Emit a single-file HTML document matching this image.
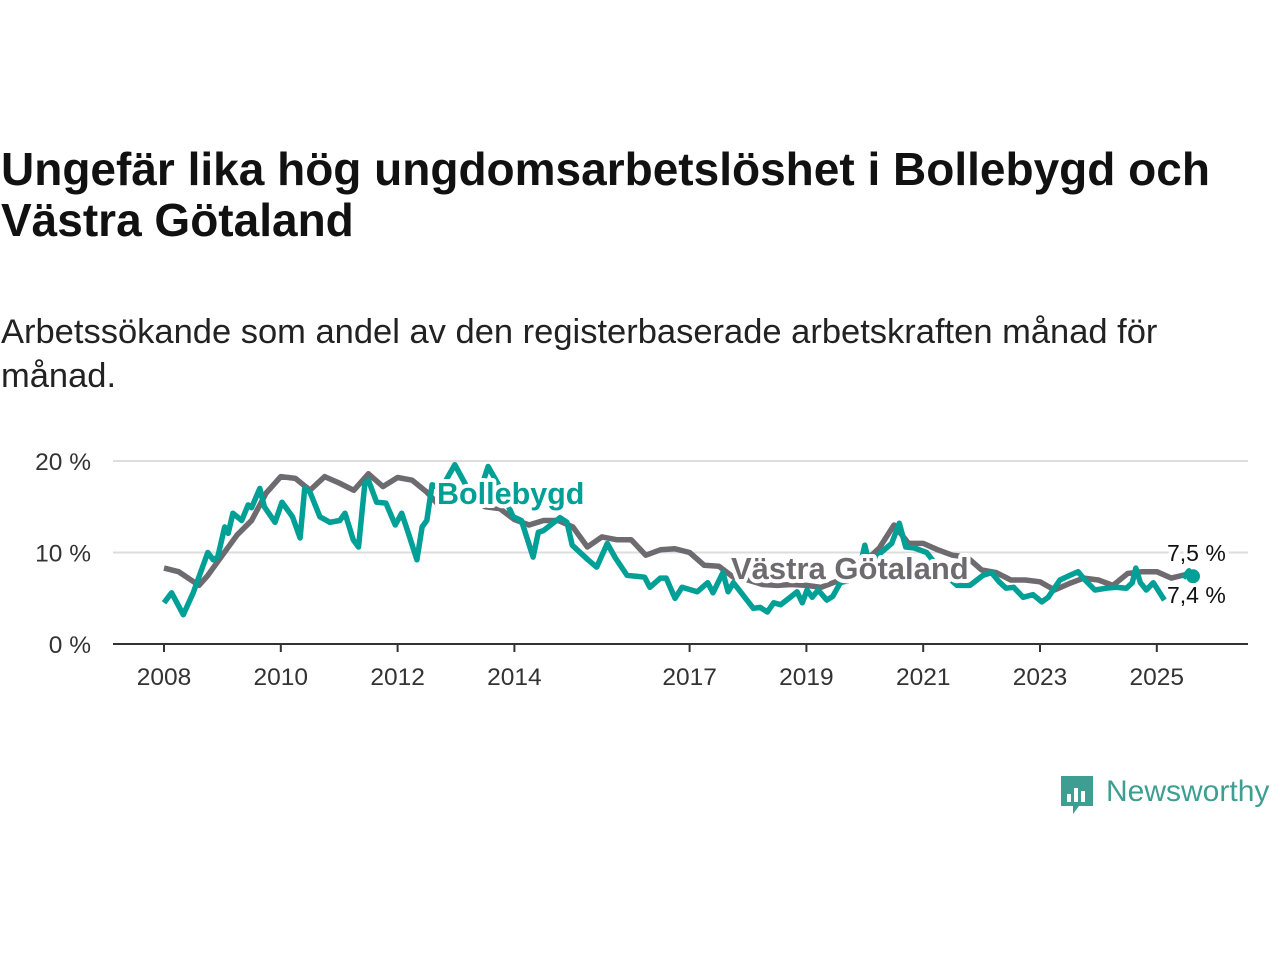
<!DOCTYPE html>
<html><head><meta charset="utf-8"><style>
body{margin:0;width:1280px;height:960px;background:#fff;font-family:"Liberation Sans",sans-serif;overflow:hidden;position:relative}
.t{position:absolute;left:1px;white-space:nowrap;color:#111}
</style></head><body>
<div class="t" style="top:144px;font-size:46px;font-weight:bold;line-height:51px;color:#111">Ungefär lika hög ungdomsarbetslöshet i Bollebygd och<br>Västra Götaland</div>
<div class="t" style="top:310px;font-size:34.5px;line-height:44px;color:#222">Arbetssökande som andel av den registerbaserade arbetskraften månad för<br>månad.</div>
<svg id="chart" width="1280" height="960" style="position:absolute;left:0;top:0"></svg>
<div style="position:absolute;left:1059px;top:774px;display:flex;align-items:center">
<svg width="36" height="44"><path d="M2 2h32v30H20l-6 8v-8H2z" fill="#3e9e92"/><rect x="8" y="20" width="4" height="8" fill="#fff"/><rect x="15" y="14" width="4" height="14" fill="#fff"/><rect x="22" y="17" width="4" height="11" fill="#fff"/></svg>
<span style="font-size:30px;color:#3e9e92;margin-left:11px;margin-top:-8px">Newsworthy</span></div>
<script>
const yTicks=[0,10,20];
const xTickYears=[2008,2010,2012,2014,2017,2019,2021,2023,2025];
const vgDates=[2008,2008.25,2008.6,2008.75,2009,2009.25,2009.5,2009.75,2010,2010.25,2010.5,2010.75,2011,2011.25,2011.5,2011.75,2012,2012.25,2012.5,2012.7,2013,2013.25,2013.5,2013.75,2014,2014.25,2014.5,2014.75,2015,2015.25,2015.5,2015.75,2016,2016.25,2016.5,2016.75,2017,2017.25,2017.5,2017.75,2018,2018.25,2018.5,2018.75,2019,2019.25,2019.5,2019.75,2020,2020.25,2020.5,2020.75,2021,2021.25,2021.5,2021.75,2022,2022.25,2022.5,2022.75,2023,2023.25,2023.5,2023.75,2024,2024.25,2024.5,2024.75,2025,2025.25,2025.5,2025.6];
const vgValues=[8.3,7.9,6.4,7.5,9.7,11.9,13.5,16.5,18.3,18.1,16.8,18.3,17.6,16.8,18.6,17.2,18.2,17.9,16.6,15.2,17,16,15,14.8,13.6,13,13.5,13.5,12.8,10.6,11.7,11.4,11.4,9.7,10.3,10.4,10,8.6,8.5,7.3,7,6.5,6.4,6.5,6.4,6.2,6.8,7.5,9,10.5,13,11,11,10.3,9.7,9.5,8.1,7.8,7,7,6.8,5.9,6.6,7.2,7,6.4,7.7,7.9,7.9,7.2,7.6,7.5];
const bDates=[2008,2008.13,2008.33,2008.5,2008.75,2008.84,2008.92,2009.04,2009.1,2009.18,2009.33,2009.44,2009.5,2009.64,2009.72,2009.9,2010.02,2010.2,2010.33,2010.41,2010.5,2010.67,2010.84,2011.01,2011.1,2011.24,2011.33,2011.44,2011.5,2011.64,2011.8,2011.96,2012.07,2012.18,2012.33,2012.42,2012.5,2012.59,2012.75,2012.98,2013.2,2013.35,2013.55,2013.72,2013.98,2014.12,2014.32,2014.41,2014.5,2014.78,2014.9,2014.99,2015.26,2015.41,2015.59,2015.73,2015.93,2016.1,2016.23,2016.32,2016.5,2016.6,2016.75,2016.87,2017.13,2017.31,2017.4,2017.57,2017.66,2017.75,2018.09,2018.21,2018.33,2018.44,2018.56,2018.7,2018.84,2018.93,2019.01,2019.1,2019.2,2019.35,2019.45,2019.58,2019.75,2019.9,2020,2020.1,2020.26,2020.46,2020.59,2020.7,2020.84,2021.06,2021.3,2021.58,2021.8,2022.02,2022.17,2022.3,2022.42,2022.55,2022.71,2022.88,2023.03,2023.14,2023.34,2023.51,2023.65,2023.77,2023.94,2024.14,2024.3,2024.48,2024.58,2024.64,2024.72,2024.82,2024.94,2025.0,2025.13,null,2025.45,2025.55,2025.62];
const bValues=[4.5,5.6,3.2,5.6,10,9.2,9.5,12.8,12.1,14.3,13.5,15.2,14.9,17,15,13.3,15.5,13.9,11.6,17,16.6,13.9,13.3,13.5,14.3,11.4,10.6,17.6,17.9,15.5,15.4,13,14.3,12.2,9.2,12.8,13.5,17.4,17,19.6,17,15.5,19.4,17.5,13.9,13.5,9.5,12.2,12.4,13.8,13.3,10.8,9.2,8.4,11,9.4,7.5,7.4,7.3,6.2,7.2,7.2,5,6.2,5.7,6.7,5.6,7.8,5.7,6.7,3.9,4.0,3.5,4.5,4.3,5,5.7,4.5,5.9,5.1,5.9,4.8,5.2,6.7,7,8,10.8,8.2,9.9,11,13.2,10.6,10.5,10,8,6.4,6.4,7.5,7.8,6.8,6.1,6.2,5.1,5.4,4.6,5.1,7,7.5,7.9,7,5.9,6.1,6.2,6.1,6.7,8.3,6.7,5.9,6.7,6.1,4.8,null,7.2,8,7.4];
const NS='http://www.w3.org/2000/svg';
const svg=document.getElementById('chart');
const x=t=>164+(t-2008)*58.4;
const y=v=>644-v*9.15;
function mk(tag,attrs){const e=document.createElementNS(NS,tag);for(const k in attrs)e.setAttribute(k,attrs[k]);svg.appendChild(e);return e;}
yTicks.forEach(v=>{
  const g=mk('line',{x1:113,x2:1248,y1:y(v),y2:y(v),stroke:v===0?'#333':'#ddd','stroke-width':2});
  
  
  const tx=mk('text',{x:91,y:y(v)+9,'text-anchor':'end','font-size':24.5,fill:'#333','font-family':'Liberation Sans, sans-serif'});
  tx.textContent=v+' %';
  
  
});
xTickYears.forEach(yr=>{
  const l=mk('line',{x1:x(yr),x2:x(yr),y1:644,y2:652,stroke:'#333','stroke-width':2});
  
  
  const tx=mk('text',{x:x(yr),y:685,'text-anchor':'middle','font-size':24.5,fill:'#333','font-family':'Liberation Sans, sans-serif'});
  tx.textContent=yr;
  
  
});
function path(dates,vals){let d='',pen=false;dates.forEach((t,i)=>{if(t===null||vals[i]===null){pen=false;return;}d+=(pen?'L':'M')+x(t).toFixed(1)+' '+y(vals[i]).toFixed(1);pen=true;});return d;}
const vg=mk('path',{d:path(vgDates,vgValues),fill:'none',stroke:'#6d6b70','stroke-width':5.5,'stroke-linejoin':'round'});


const bl=mk('path',{d:path(bDates,bValues),fill:'none',stroke:'#00a096','stroke-width':5.5,'stroke-linejoin':'round'});


const n=bValues.length-1;
const dot=mk('circle',{cx:x(bDates[n]),cy:y(bValues[n]),r:7,fill:'#00a096'});


function lbl(txt,xx,yy,col,w,name,size){
  const h=mk('text',{x:xx,y:yy,'font-size':size,'font-weight':w?'bold':'normal',fill:'#fff',stroke:'#fff','stroke-width':8,'stroke-linejoin':'round','font-family':'Liberation Sans, sans-serif'});
  h.textContent=txt;
  
  
  const t=mk('text',{x:xx,y:yy,'font-size':size,'font-weight':w?'bold':'normal',fill:col,'font-family':'Liberation Sans, sans-serif'});
  t.textContent=txt;
  
  
}
lbl('Bollebygd',437,504,'#00a096',true,'bollebygd-label',30.5);
lbl('Västra Götaland',731,579,'#6d6b70',true,'vastra-gotaland-label',31);
lbl('7,5 %',1167,561,'#111',false,'vastra-gotaland-end-value',23);
lbl('7,4 %',1167,603,'#111',false,'bollebygd-end-value',23);
</script>
</body></html>
